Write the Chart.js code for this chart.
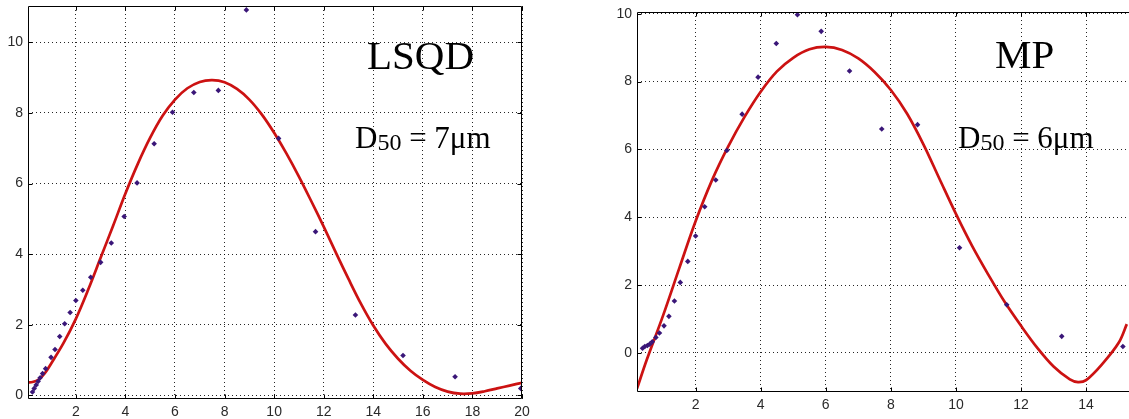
<!DOCTYPE html>
<html>
<head>
<meta charset="utf-8">
<script src="https://cdn.jsdelivr.net/npm/chart.js@4.4.1/dist/chart.umd.min.js"></script>
<style>
  html, body { margin: 0; padding: 0; background: #fff; overflow: hidden; width: 1129px; height: 419px; }
  .wrap { position: absolute; top: -14px; height: 433px; }
  .label { position: absolute; font-family: "Liberation Serif", "Times New Roman", serif; color: #000; white-space: nowrap; }
  .big { font-size: 41px; line-height: 41px; }
  .d50 { font-size: 31px; line-height: 31px; }
  .d50 sub { font-size: 24px; vertical-align: baseline; position: relative; top: 2px; }
</style>
</head>
<body>
<div class="wrap" style="left:0;width:542px"><canvas id="lsqdChart"></canvas></div>
<div class="wrap" style="left:600px;width:564px"><canvas id="mpChart"></canvas></div>

<div class="label big" style="left:367px;top:35px">LSQD</div>
<div class="label d50" style="left:355px;top:122px">D<sub>50</sub> = 7μm</div>
<div class="label big" style="left:995px;top:34px">MP</div>
<div class="label d50" style="left:958px;top:122px">D<sub>50</sub> = 6μm</div>

<script>
// LSQD: measured points and fitted curve
const lsqdPointX = [0.25, 0.32, 0.4, 0.48, 0.56, 0.66, 0.78, 1.0, 1.16, 1.35, 1.55, 1.77, 2.0, 2.28, 2.6, 3.0, 3.43, 3.95, 4.47, 5.16, 5.9, 6.76, 7.75, 8.88, 10.18, 11.67, 13.28, 15.2, 17.3, 19.95];
const lsqdPointY = [0.1, 0.2, 0.3, 0.4, 0.5, 0.62, 0.76, 1.08, 1.3, 1.67, 2.03, 2.35, 2.69, 2.98, 3.35, 3.77, 4.32, 5.07, 6.02, 7.13, 8.02, 8.58, 8.64, 10.92, 7.28, 4.64, 2.28, 1.13, 0.53, 0.2];
const lsqdFitX = [0.07, 0.25, 0.5, 0.75, 1.0, 1.5, 2.0, 2.5, 3.0, 3.5, 4.0, 4.5, 5.0, 5.5, 6.0, 6.5, 7.0, 7.5, 8.0, 8.5, 9.0, 9.5, 10.0, 10.5, 11.0, 11.5, 12.0, 12.5, 13.0, 13.5, 14.0, 14.5, 15.0, 15.5, 16.0, 16.5, 17.0, 17.5, 18.0, 18.5, 19.0, 19.5, 20.0];
const lsqdFitY = [0.37, 0.38, 0.45, 0.63, 0.9, 1.48, 2.17, 3.0, 3.9, 4.8, 5.72, 6.56, 7.3, 7.92, 8.38, 8.7, 8.88, 8.93, 8.87, 8.68, 8.38, 7.96, 7.44, 6.85, 6.2, 5.5, 4.78, 4.03, 3.3, 2.6, 1.98, 1.46, 1.04, 0.7, 0.44, 0.24, 0.11, 0.05, 0.06, 0.12, 0.2, 0.28, 0.36];
const lsqdXTicks = [2, 4, 6, 8, 10, 12, 14, 16, 18, 20];
const lsqdYTicks = [0, 2, 4, 6, 8, 10];

// MP: measured points and fitted curve
const mpPointX = [0.37, 0.44, 0.52, 0.59, 0.67, 0.78, 0.89, 1.03, 1.18, 1.35, 1.53, 1.76, 2.0, 2.28, 2.62, 2.96, 3.43, 3.92, 4.48, 5.13, 5.86, 6.73, 7.72, 8.82, 10.11, 11.56, 13.25, 15.13];
const mpPointY = [0.14, 0.19, 0.22, 0.26, 0.33, 0.46, 0.59, 0.8, 1.08, 1.53, 2.08, 2.7, 3.45, 4.31, 5.1, 5.97, 7.04, 8.13, 9.12, 9.97, 9.48, 8.31, 6.6, 6.73, 3.1, 1.42, 0.49, 0.19];
const mpFitX = [0.2, 0.5, 1.0, 1.5, 2.0, 2.5, 3.0, 3.5, 4.0, 4.5, 5.0, 5.5, 6.0, 6.5, 7.0, 7.5, 8.0, 8.5, 9.0, 9.5, 10.0, 10.5, 11.0, 11.5, 12.0, 12.5, 13.0, 13.5, 13.75, 14.0, 14.5, 15.0, 15.25];
const mpFitY = [-1.05, -0.2, 1.1, 2.5, 3.88, 5.08, 6.08, 6.95, 7.7, 8.3, 8.7, 8.95, 9.02, 8.93, 8.68, 8.28, 7.75, 7.05, 6.15, 5.12, 4.1, 3.15, 2.3, 1.5, 0.8, 0.15, -0.4, -0.78, -0.86, -0.8, -0.32, 0.3, 0.85];
const mpXTicks = [2, 4, 6, 8, 10, 12, 14, 16];
const mpYTicks = [0, 2, 4, 6, 8, 10];

const pointColor = "rgb(58, 22, 120)";
const lineColor = "rgb(204, 18, 18)";
const tickFont = { family: "'Liberation Sans', Arial, sans-serif", size: 14 };

const toXY = (xs, ys) => xs.map((x, i) => ({ x: x, y: ys[i] }));

// black box round the plot area with short inward ticks, like matlab axes
const boxPlugin = {
  id: "box",
  afterDraw(chart) {
    const { ctx, chartArea: a, scales } = chart;
    ctx.save();
    ctx.strokeStyle = "#000";
    ctx.lineWidth = 1;
    ctx.beginPath();
    const L = Math.round(a.left) + 0.5, R = Math.round(a.right) - 0.5;
    const T = Math.round(a.top) + 0.5, B = Math.round(a.bottom) - 0.5;
    ctx.rect(L, T, R - L, B - T);
    scales.x.ticks.forEach((t) => {
      const px = Math.round(scales.x.getPixelForValue(t.value)) + 0.5;
      ctx.moveTo(px, B); ctx.lineTo(px, B - 4);
      ctx.moveTo(px, T); ctx.lineTo(px, T + 4);
    });
    scales.y.ticks.forEach((t) => {
      const py = Math.round(scales.y.getPixelForValue(t.value)) + 0.5;
      ctx.moveTo(L, py); ctx.lineTo(L + 4, py);
      ctx.moveTo(R, py); ctx.lineTo(R - 4, py);
    });
    ctx.stroke();
    ctx.restore();
  },
};

const makeChart = (id, pts, fit, xr, yr, xTicks, yTicks, yWidth, xHeight, padding) => {
  return new Chart(document.getElementById(id).getContext("2d"), {
    type: "scatter",
    data: {
      datasets: [
        {
          data: fit,
          showLine: true,
          borderColor: lineColor,
          borderWidth: 2.7,
          pointRadius: 0,
          tension: 0.35,
          order: 2,
        },
        {
          data: pts,
          pointStyle: "rectRot",
          pointRadius: 2.8,
          backgroundColor: pointColor,
          borderColor: pointColor,
          borderWidth: 0,
          order: 1,
        },
      ],
    },
    options: {
      responsive: true,
      maintainAspectRatio: false,
      animation: false,
      layout: { padding: padding },
      plugins: { legend: { display: false }, tooltip: { enabled: false } },
      clip: 0,
      scales: {
        x: {
          type: "linear",
          min: xr[0],
          max: xr[1],
          afterBuildTicks: (s) => { s.ticks = xTicks.map((v) => ({ value: v })); },
          afterFit: (s) => { s.height = xHeight; },
          ticks: { color: "#2a2a2a", font: tickFont, padding: 5, maxRotation: 0 },
          grid: { color: "rgba(0,0,0,0.85)", lineWidth: 1, drawTicks: false },
          border: { display: false, dash: [1, 3] },
        },
        y: {
          type: "linear",
          min: yr[0],
          max: yr[1],
          afterBuildTicks: (s) => { s.ticks = yTicks.map((v) => ({ value: v })); },
          afterFit: (s) => { s.width = yWidth; },
          ticks: { color: "#2a2a2a", font: tickFont, padding: 5 },
          grid: { color: "rgba(0,0,0,0.85)", lineWidth: 1, drawTicks: false },
          border: { display: false, dash: [1, 3] },
        },
      },
    },
    plugins: [boxPlugin],
  });
};

makeChart("lsqdChart", toXY(lsqdPointX, lsqdPointY), toXY(lsqdFitX, lsqdFitY),
  [0.07, 20], [-0.1, 11.03], lsqdXTicks, lsqdYTicks, 28, 20,
  { top: 20, right: 20, bottom: 0, left: 0 });

makeChart("mpChart", toXY(mpPointX, mpPointY), toXY(mpFitX, mpFitY),
  [0.2, 16], [-1.15, 10.05], mpXTicks, mpYTicks, 37, 27,
  { top: 26, right: 10, bottom: 0, left: 0 });
</script>
</body>
</html>
